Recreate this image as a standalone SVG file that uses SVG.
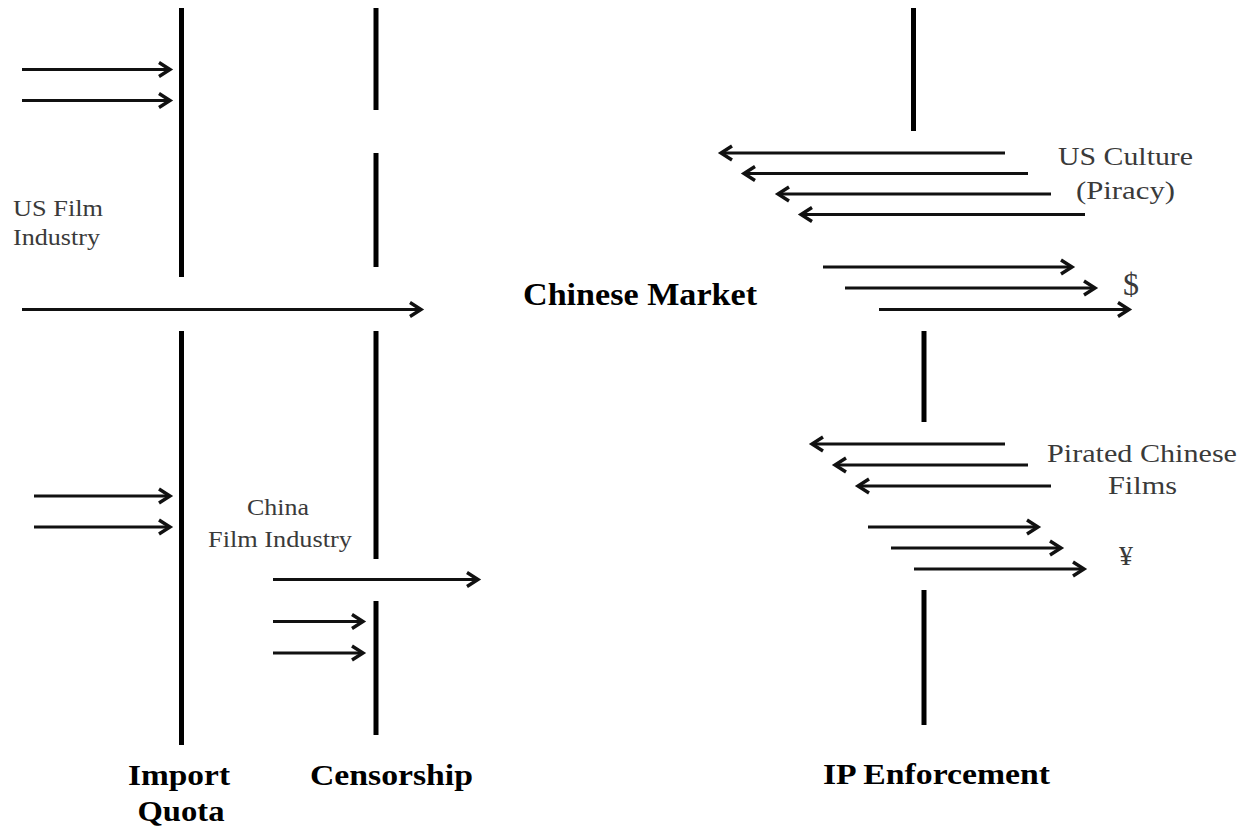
<svg xmlns="http://www.w3.org/2000/svg" width="1247" height="829" viewBox="0 0 1247 829">
<style>
.bar{stroke:#000;stroke-width:5;fill:none}
.arr{stroke:#111;stroke-width:3.2;fill:none;marker-end:url(#ah)}
.lbl{font-family:"Liberation Serif","Times New Roman",serif;fill:#3a3a3a;font-size:23px}
.bold{font-family:"Liberation Serif","Times New Roman",serif;font-weight:bold;fill:#000;font-size:30px}
</style>
<defs>
<marker id="ah" viewBox="-14 -10 20 20" markerWidth="20" markerHeight="20" refX="0" refY="0" orient="auto" markerUnits="userSpaceOnUse">
<path d="M-11,-7 L0,0 L-11,7" stroke="#111" stroke-width="3.4" fill="none" stroke-linejoin="miter"/>
</marker>
</defs>
<rect width="1247" height="829" fill="#fff"/>
<g id="barriers">
<g id="import-quota">
<line class="bar" x1="181.5" y1="8" x2="181.5" y2="277"/>
<line class="bar" x1="181.5" y1="331" x2="181.5" y2="745"/>
<text class="bold" x="179" y="785" text-anchor="middle" textLength="102" lengthAdjust="spacingAndGlyphs">Import</text>
<text class="bold" x="181" y="821" text-anchor="middle" textLength="87" lengthAdjust="spacingAndGlyphs">Quota</text>
</g>
<g id="censorship">
<line class="bar" x1="376" y1="8" x2="376" y2="110"/>
<line class="bar" x1="376" y1="153" x2="376" y2="267"/>
<line class="bar" x1="376" y1="331" x2="376" y2="559"/>
<line class="bar" x1="376" y1="601" x2="376" y2="735"/>
<text class="bold" x="310" y="785" textLength="163" lengthAdjust="spacingAndGlyphs">Censorship</text>
</g>
<g id="ip-enforcement">
<line class="bar" x1="913.5" y1="8" x2="913.5" y2="131"/>
<line class="bar" x1="924" y1="331" x2="924" y2="422"/>
<line class="bar" x1="924" y1="590" x2="924" y2="725"/>
<text class="bold" x="823" y="784" textLength="227" lengthAdjust="spacingAndGlyphs">IP Enforcement</text>
</g>
</g>
<g id="us-film-industry">
<text class="lbl" x="13" y="216" textLength="90" lengthAdjust="spacingAndGlyphs">US Film</text>
<text class="lbl" x="13" y="245" textLength="87" lengthAdjust="spacingAndGlyphs">Industry</text>
</g>
<g id="china-film-industry">
<text class="lbl" x="278" y="515" text-anchor="middle" textLength="62" lengthAdjust="spacingAndGlyphs">China</text>
<text class="lbl" x="208" y="547" textLength="144" lengthAdjust="spacingAndGlyphs">Film Industry</text>
</g>
<g id="chinese-market">
<text class="bold" x="523" y="305" style="font-size:32px" textLength="234" lengthAdjust="spacingAndGlyphs">Chinese Market</text>
</g>
<g id="us-culture">
<text class="lbl" x="1058" y="165" style="font-size:25px" textLength="135" lengthAdjust="spacingAndGlyphs">US Culture</text>
<text class="lbl" x="1076" y="199" style="font-size:25px" textLength="99" lengthAdjust="spacingAndGlyphs">(Piracy)</text>
</g>
<g id="dollar">
<text class="lbl" x="1131" y="295" style="font-size:32px" text-anchor="middle">$</text>
</g>
<g id="pirated-chinese-films">
<text class="lbl" x="1047" y="462" style="font-size:25px" textLength="190" lengthAdjust="spacingAndGlyphs">Pirated Chinese</text>
<text class="lbl" x="1108" y="494" style="font-size:25px" textLength="69" lengthAdjust="spacingAndGlyphs">Films</text>
</g>
<g id="yuan">
<text class="lbl" x="1126" y="565" style="font-size:28px" text-anchor="middle">¥</text>
</g>
<g id="connectors">
<line class="arr" x1="22" y1="69.5" x2="170" y2="69.5"/>
<line class="arr" x1="22" y1="100.5" x2="170" y2="100.5"/>
<line class="arr" x1="22" y1="309.5" x2="421" y2="309.5"/>
<line class="arr" x1="34" y1="496" x2="170" y2="496"/>
<line class="arr" x1="34" y1="527" x2="170" y2="527"/>
<line class="arr" x1="273" y1="579.5" x2="478" y2="579.5"/>
<line class="arr" x1="273" y1="621.5" x2="363" y2="621.5"/>
<line class="arr" x1="273" y1="653" x2="363" y2="653"/>
<line class="arr" x1="1005" y1="153" x2="721" y2="153"/>
<line class="arr" x1="1028" y1="173.5" x2="744" y2="173.5"/>
<line class="arr" x1="1051" y1="194" x2="778" y2="194"/>
<line class="arr" x1="1085" y1="214.5" x2="801" y2="214.5"/>
<line class="arr" x1="823" y1="267" x2="1072" y2="267"/>
<line class="arr" x1="845" y1="288" x2="1095" y2="288"/>
<line class="arr" x1="879" y1="309.5" x2="1129" y2="309.5"/>
<line class="arr" x1="1005" y1="444" x2="812" y2="444"/>
<line class="arr" x1="1028" y1="465" x2="835" y2="465"/>
<line class="arr" x1="1051" y1="486" x2="858" y2="486"/>
<line class="arr" x1="868" y1="527" x2="1038" y2="527"/>
<line class="arr" x1="891" y1="548" x2="1061" y2="548"/>
<line class="arr" x1="914" y1="569" x2="1084" y2="569"/>
</g>
</svg>
